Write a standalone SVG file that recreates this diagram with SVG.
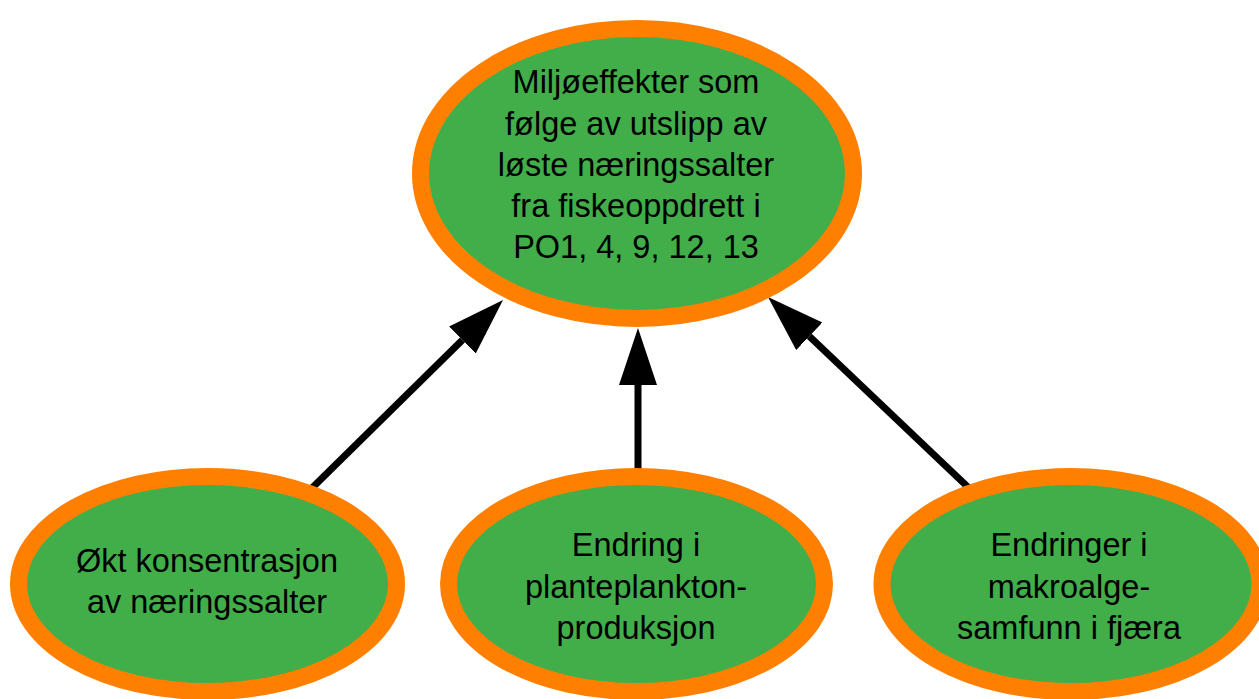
<svg xmlns="http://www.w3.org/2000/svg" width="1259" height="699" viewBox="0 0 1259 699">
<style>
.node{fill:#41AE4A;stroke:#FF8000;stroke-width:17}
.lbl{font-family:"Liberation Sans",Arial,sans-serif;font-size:32.5px;fill:#000;text-anchor:middle}
.conn{stroke:#000;stroke-width:7;fill:none}
</style>
<defs>
<marker id="ah" markerUnits="userSpaceOnUse" markerWidth="58" markerHeight="40" viewBox="0 0 58 40" refX="0" refY="19" orient="auto">
<path d="M0,0 L57,19 L0,38 z" fill="#000"/>
</marker>
</defs>
<rect width="1259" height="699" fill="#fff"/>
<g id="connectors">
<line class="conn" x1="310" y1="490" x2="462.4" y2="340" marker-end="url(#ah)"/>
<line class="conn" x1="638" y1="476" x2="638" y2="385" marker-end="url(#ah)"/>
<line class="conn" x1="971" y1="490" x2="809.3" y2="336.3" marker-end="url(#ah)"/>
</g>
<g id="top">
<ellipse class="node" cx="637" cy="173.5" rx="216.5" ry="145"/>
<text class="lbl"><tspan x="636" y="93">Miljøeffekter som</tspan><tspan x="636" y="135">følge av utslipp av</tspan><tspan x="636" y="176">løste næringssalter</tspan><tspan x="636" y="217">fra fiskeoppdrett i</tspan><tspan x="636" y="258">PO1, 4, 9, 12, 13</tspan></text>
</g>
<g id="left">
<ellipse class="node" cx="207.5" cy="584" rx="189" ry="107.5"/>
<text class="lbl"><tspan x="207" y="572">Økt konsentrasjon</tspan><tspan x="207" y="613">av næringssalter</tspan></text>
</g>
<g id="middle">
<ellipse class="node" cx="636.5" cy="584" rx="188" ry="107.5"/>
<text class="lbl"><tspan x="636" y="556">Endring i</tspan><tspan x="636" y="598">planteplankton-</tspan><tspan x="636" y="639">produksjon</tspan></text>
</g>
<g id="right">
<ellipse class="node" cx="1071" cy="584" rx="189" ry="107.5"/>
<text class="lbl"><tspan x="1069" y="556">Endringer i</tspan><tspan x="1069" y="598">makroalge-</tspan><tspan x="1069" y="639">samfunn i fjæra</tspan></text>
</g>
</svg>
